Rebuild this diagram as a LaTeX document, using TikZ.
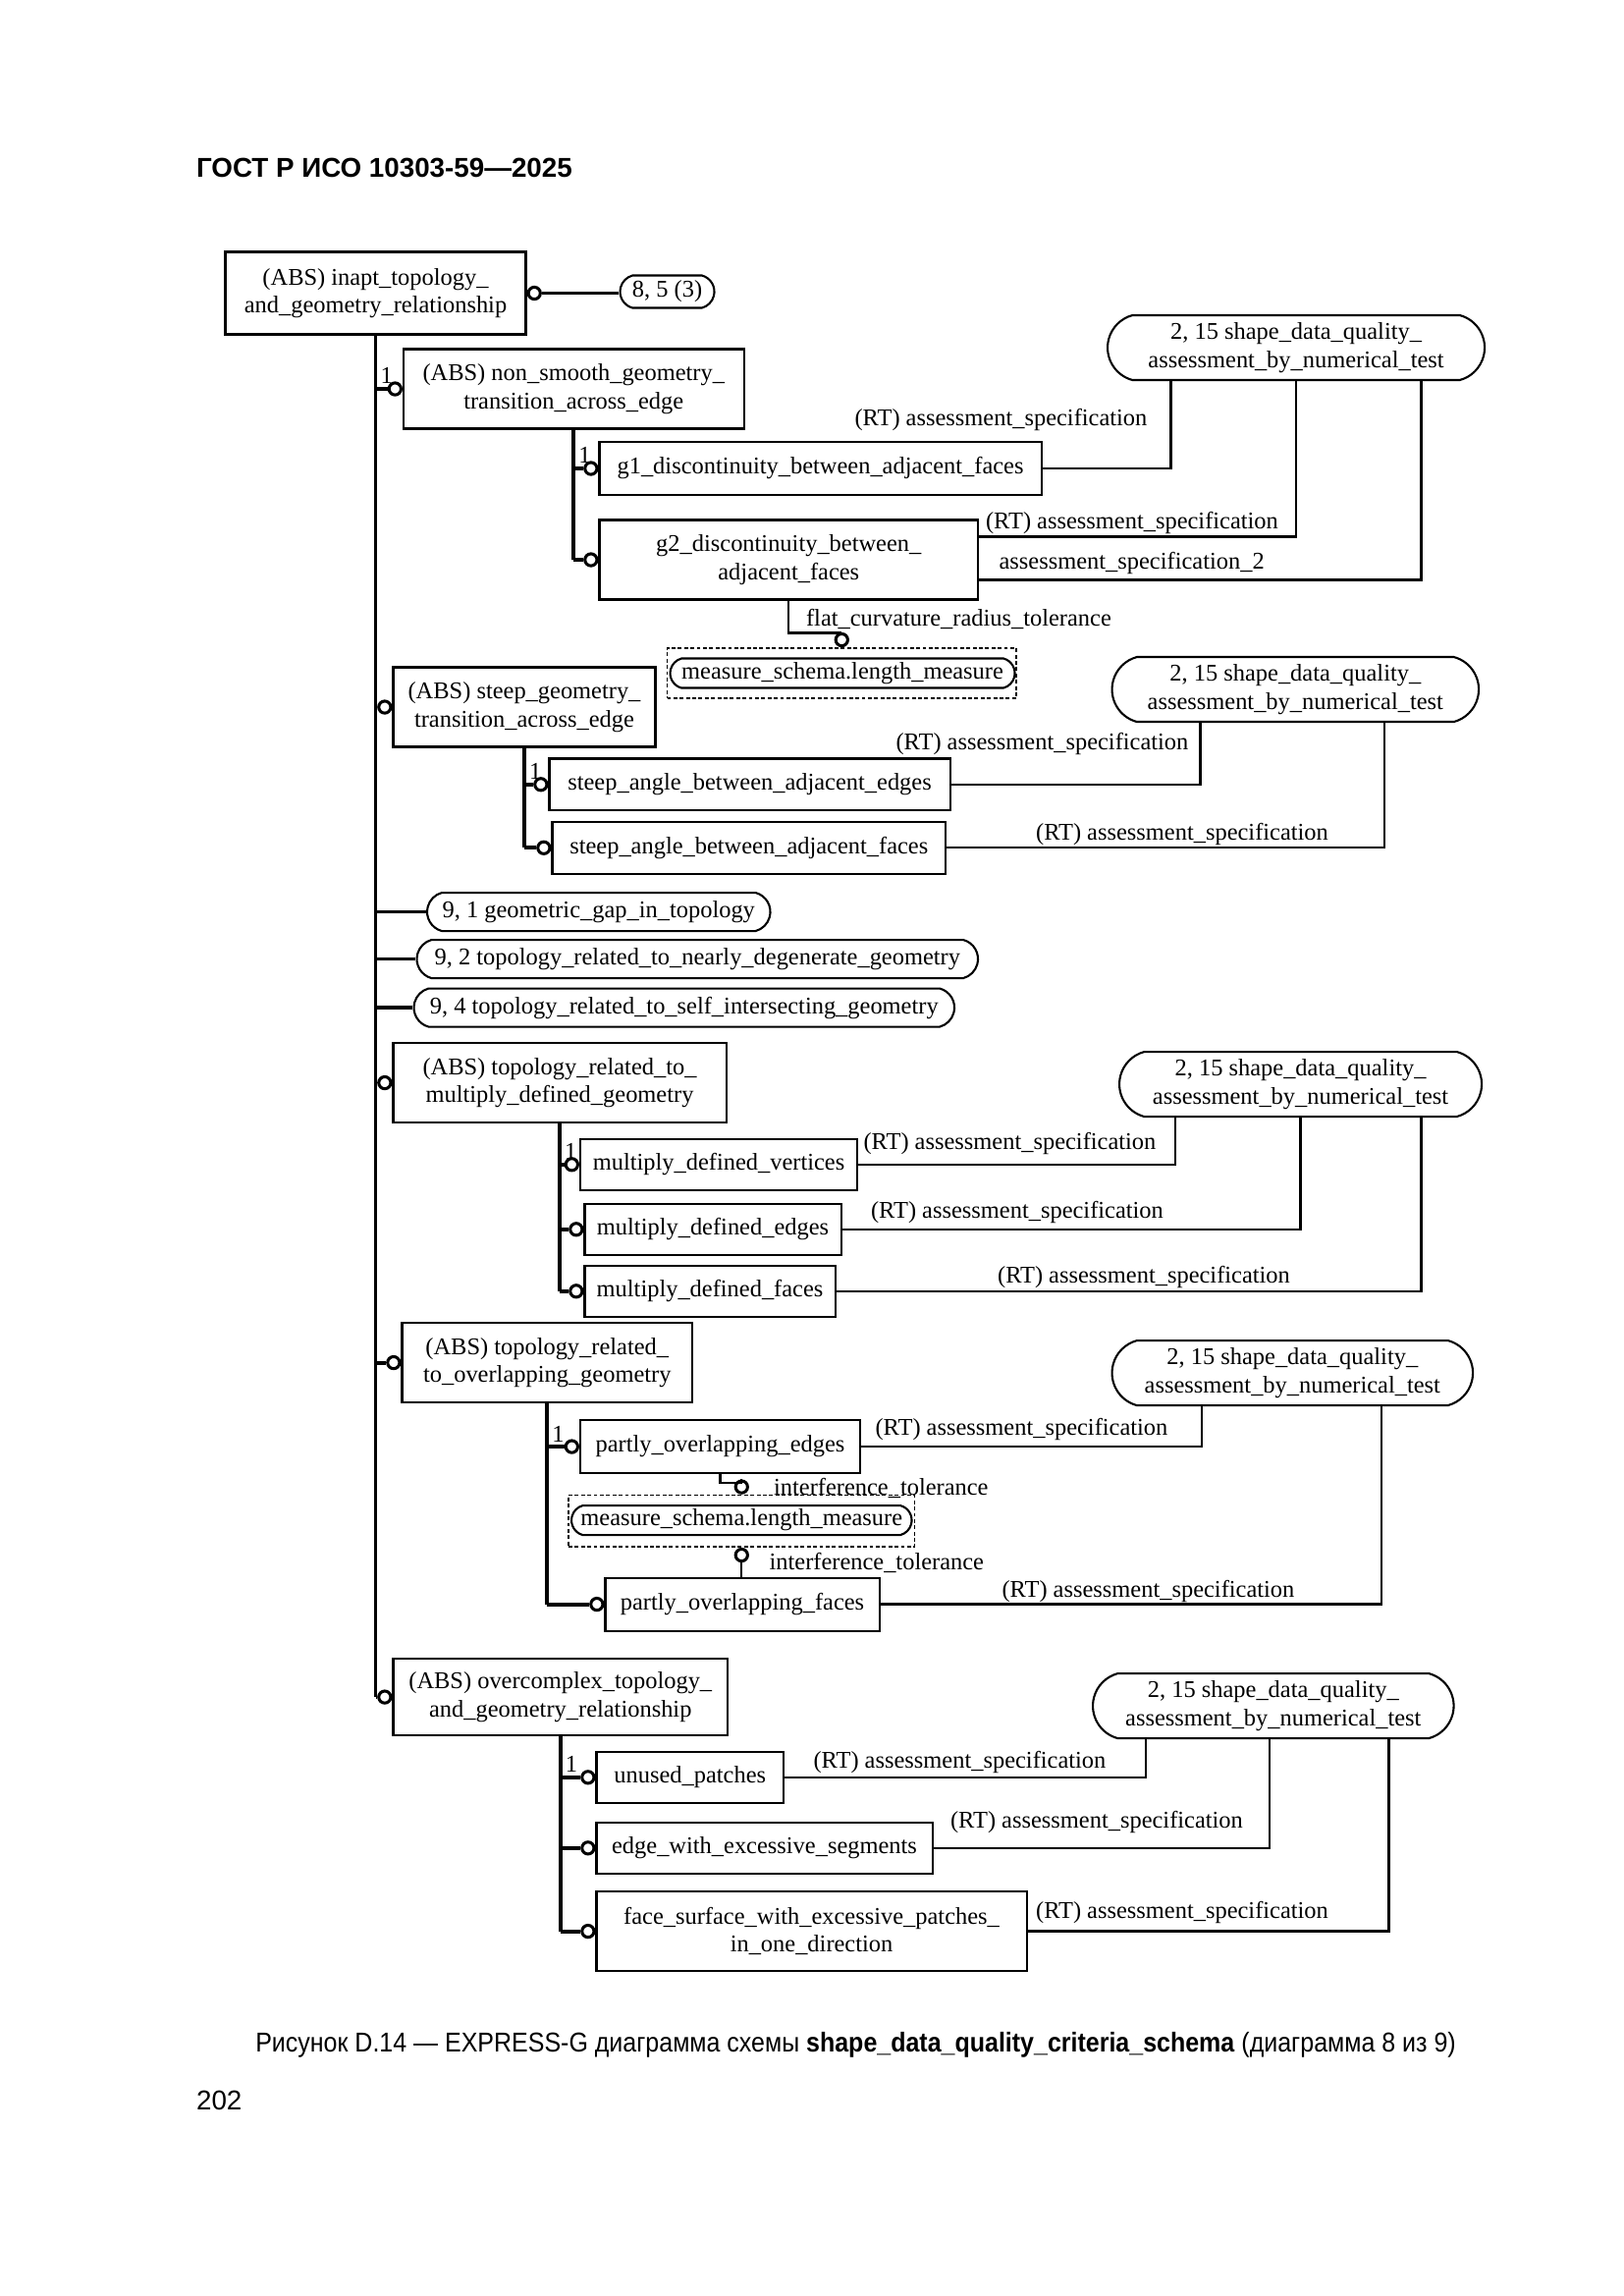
\documentclass[tikz,border=0pt]{standalone}
\usepackage{fontspec}
\setmainfont{Liberation Serif}
\newfontfamily\sansf{Liberation Sans}
\newfontfamily\capf[FakeStretch=0.9]{Liberation Sans}
\usetikzlibrary{calc,shapes.misc}
\def\pxu{0.5402pt}
\newcommand\dfont{\fontsize{8.8}{10.3}\selectfont}
\tikzset{
 ebox/.style={draw, line width=0.75pt, rectangle, inner sep=0pt, align=center, font=\dfont},
 eoval/.style={ebox, rounded rectangle, rounded rectangle arc length=150},
 dbox/.style={draw, line width=0.6pt, dash pattern=on 1.4pt off 0.9pt, rectangle, inner sep=0pt},
 cnode/.style={draw, circle, line width=1.1pt, inner sep=0pt, minimum size=4.4pt, fill=white},
 tree/.style={line width=1.4pt},
 rel/.style={line width=0.8pt},
 lbl/.style={font=\dfont, inner sep=0pt, anchor=west},
 one/.style={font=\dfont, inner sep=0pt, anchor=south west},
}
\newcommand\ebx[7][ebox]{\node[#1, minimum width={(#5-#3)*\pxu}, minimum height={(#6-#4)*\pxu}] (#2) at ({(#3+#5)/2},{(#4+#6)/2}) {#7};}
\begin{document}
\begin{tikzpicture}[x=0.5402pt, y=-0.5402pt]
\fill[white] (0,0) rectangle (1102,1558.6);
\useasboundingbox (0,0) rectangle (1102,1558.6);

\node[font=\sansf\bfseries\fontsize{10}{12}\selectfont, anchor=base west, inner sep=0pt] (hdr) at (133,120) {ГОСТ Р ИСО 10303-59—2025};

% boxes
\ebx{A}{153}{171}{357}{227}{(ABS) inapt\_topology\_\\and\_geometry\_relationship}
\ebx[eoval]{O85}{421}{187}{485}{209}{8, 5 (3)}
\ebx{B}{274}{237}{505}{291}{(ABS) non\_smooth\_geometry\_\\transition\_across\_edge}
\ebx{g1}{407}{300}{707}{336}{g1\_discontinuity\_between\_adjacent\_faces}
\ebx{g2}{407}{353}{664}{407}{g2\_discontinuity\_between\_\\adjacent\_faces}
\ebx[eoval]{S1}{752}{214}{1008}{258}{2, 15 shape\_data\_quality\_\\assessment\_by\_numerical\_test}
\ebx[dbox]{DS1}{453}{440}{690}{474}{}
\ebx[eoval]{M1}{455}{447}{689}{467}{measure\_schema.length\_measure}

\ebx{C}{267}{453}{445}{507}{(ABS) steep\_geometry\_\\transition\_across\_edge}
\ebx{sae}{373}{515}{645}{550}{steep\_angle\_between\_adjacent\_edges}
\ebx{saf}{375}{558}{642}{593}{steep\_angle\_between\_adjacent\_faces}
\ebx[eoval]{S2}{755}{446}{1004}{490}{2, 15 shape\_data\_quality\_\\assessment\_by\_numerical\_test}

\ebx[eoval]{O91}{290}{606}{523}{632}{9, 1 geometric\_gap\_in\_topology}
\ebx[eoval]{O92}{283}{638}{664}{664}{9, 2 topology\_related\_to\_nearly\_degenerate\_geometry}
\ebx[eoval]{O94}{281}{671}{648}{697}{9, 4 topology\_related\_to\_self\_intersecting\_geometry}

\ebx{D}{267}{708}{493}{762}{(ABS) topology\_related\_to\_\\multiply\_defined\_geometry}
\ebx{mdv}{394}{773}{582}{808}{multiply\_defined\_vertices}
\ebx{mde}{397}{817}{571}{852}{multiply\_defined\_edges}
\ebx{mdf}{397}{859}{567}{894}{multiply\_defined\_faces}
\ebx[eoval]{S3}{760}{714}{1006}{758}{2, 15 shape\_data\_quality\_\\assessment\_by\_numerical\_test}

\ebx{E}{273}{898}{470}{952}{(ABS) topology\_related\_\\to\_overlapping\_geometry}
\ebx{poe}{394}{964}{584}{1000}{partly\_overlapping\_edges}
\ebx{pof}{411}{1071}{597}{1107}{partly\_overlapping\_faces}
\ebx[eoval]{S4}{755}{910}{1000}{954}{2, 15 shape\_data\_quality\_\\assessment\_by\_numerical\_test}
\ebx[dbox]{DS2}{386}{1015}{621}{1050}{}
\ebx[eoval]{M2}{388}{1022}{619}{1042}{measure\_schema.length\_measure}

\ebx{F}{267}{1126}{494}{1178}{(ABS) overcomplex\_topology\_\\and\_geometry\_relationship}
\ebx{up}{405}{1189}{532}{1224}{unused\_patches}
\ebx{ews}{405}{1237}{633}{1272}{edge\_with\_excessive\_segments}
\ebx{fsw}{405}{1284}{697}{1338}{face\_surface\_with\_excessive\_patches\_\\in\_one\_direction}
\ebx[eoval]{S5}{742}{1136}{987}{1180}{2, 15 shape\_data\_quality\_\\assessment\_by\_numerical\_test}

% A to 8,5(3)
\node[cnode, anchor=west] (cA) at (A.east) {};
\draw[rel] (cA.east) -- (cA.east -| O85.west);

% main trunk
\draw[tree] (A.south) -- (A.south |- F.west);
\foreach \n in {B,C,D,E,F} {
  \node[cnode, anchor=east] (c\n) at (\n.west) {};
  \draw[tree] (A.south |- \n.west) -- (c\n.west);
}
\foreach \n in {O91,O92,O94} {
  \draw[tree] (A.south |- \n.west) -- (\n.west);
}
\node[one] (oneA) at ($(A.south |- B.west)+(3,-3)$) {1};

% subtrees
\foreach \p/\first/\last/\kids in {B/g1/g2/{g1,g2}, C/sae/saf/{sae,saf}, D/mdv/mdf/{mdv,mde,mdf}, E/poe/pof/{poe,pof}, F/up/fsw/{up,ews,fsw}} {
  \draw[tree] (\p.south) -- (\p.south |- \last.west);
  \node[one] at ($(\p.south |- \first.west)+(3,-3)$) {1};
  \foreach \k in \kids {
    \node[cnode, anchor=east] (c\k) at (\k.west) {};
    \draw[tree] (\p.south |- \k.west) -- (c\k.west);
  }
}

% relationships to S1
\draw[rel] (g1.east) -| ($(S1.south)+(-85,0)$);
\draw[rel] ($(g2.north east)+(0,12)$) -| (S1.south);
\draw[rel] ($(g2.south east)+(0,-14)$) -| ($(S1.south)+(85,0)$);
\node[lbl] (l1) at (580,285) {(RT) assessment\_specification};
\node[lbl] (l2) at (669,355) {(RT) assessment\_specification};
\node[lbl] (l3) at (678,382) {assessment\_specification\_2};
% g2 to measure
\node[cnode, anchor=south] (cM1) at (DS1.north) {};
\draw[rel] (g2.south) -- ++(0,22) -| (cM1.north);
\node[lbl] (l4) at (547,420) {flat\_curvature\_radius\_tolerance};

% S2
\draw[rel] (sae.east) -| ($(S2.south)+(-64.5,0)$);
\draw[rel] (saf.east) -| ($(S2.south)+(60.5,0)$);
\node[lbl] (l5) at (608,505) {(RT) assessment\_specification};
\node[lbl] (l6) at (703,566) {(RT) assessment\_specification};

% S3
\draw[rel] (mdv.east) -| ($(S3.south)+(-85,0)$);
\draw[rel] (mde.east) -| (S3.south);
\draw[rel] (mdf.east) -| ($(S3.south)+(82,0)$);
\node[lbl] (l7) at (586,776) {(RT) assessment\_specification};
\node[lbl] (l8) at (591,823) {(RT) assessment\_specification};
\node[lbl] (l9) at (677,867) {(RT) assessment\_specification};

% S4
\draw[rel] (poe.east) -| ($(S4.south)+(-61.5,0)$);
\draw[rel] (pof.east) -| ($(S4.south)+(60.5,0)$);
\node[lbl] (l10) at (594,970) {(RT) assessment\_specification};
\node[lbl] (l11) at (680,1080) {(RT) assessment\_specification};
\node[cnode, anchor=south] (cM2) at (DS2.north) {};
\draw[rel] (poe.south) -- ++(0,6) -| (cM2.north);
\node[cnode, anchor=north] (cM3) at (DS2.south) {};
\draw[rel] (cM3.south) -- (cM3.south |- pof.north);
\node[lbl] (l12) at (525,1010) {interference\_tolerance};
\node[lbl] (l13) at (522,1061) {interference\_tolerance};

% S5
\draw[rel] (up.east) -| ($(S5.south)+(-86.5,0)$);
\draw[rel] (ews.east) -| ($(S5.south)+(-2.5,0)$);
\draw[rel] (fsw.east) -| ($(S5.south)+(78.5,0)$);
\node[lbl] (l14) at (552,1196) {(RT) assessment\_specification};
\node[lbl] (l15) at (645,1237) {(RT) assessment\_specification};
\node[lbl] (l16) at (703,1298) {(RT) assessment\_specification};

\node[font=\capf\fontsize{10}{12}\selectfont, inner sep=0pt] (cap) at (581,1388) {Рисунок D.14 — EXPRESS-G диаграмма схемы \textbf{shape\_data\_quality\_criteria\_schema} (диаграмма 8 из 9)};
\node[font=\sansf\fontsize{10}{12}\selectfont, anchor=west, inner sep=0pt] (pg) at (133,1426) {202};
\end{tikzpicture}
\end{document}
